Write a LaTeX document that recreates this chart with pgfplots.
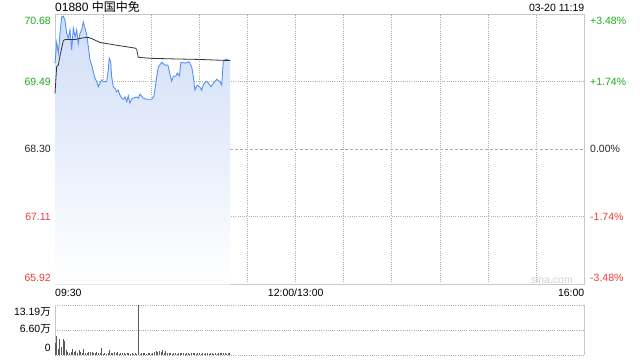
\documentclass[border=0pt]{standalone}
\usepackage{pgfplots}
\pgfplotsset{compat=1.18}
\usepackage{fontspec}
\setmainfont{Liberation Sans}
\newfontfamily\cjk{Noto Sans CJK SC}
\definecolor{upgreen}{RGB}{30,170,30}
\definecolor{downred}{RGB}{240,60,50}
\definecolor{lineblue}{RGB}{85,145,240}
\definecolor{filltop}{RGB}{208,222,248}
\definecolor{avgcol}{RGB}{50,50,50}
\definecolor{volcol}{RGB}{90,90,90}
\definecolor{gridc}{RGB}{200,200,200}
\definecolor{gridd}{RGB}{175,175,175}
\begin{document}
\begin{tikzpicture}[font=\fontsize{10.5}{12}\selectfont]
\path[use as bounding box] (0pt,0pt) rectangle (640pt,360pt);
% main price axis
\begin{axis}[at={(55pt,75.5pt)}, anchor=south west, scale only axis,
  width=529.5pt, height=270.5pt,
  xmin=0, xmax=330, ymin=65.92, ymax=70.68,
  axis line style={draw=gridc, line width=0.9pt},
  xtick={30,60,...,300}, ytick={67.11,69.49},
  xticklabels={}, yticklabels={}, major tick length=0pt,
  xmajorgrids, ymajorgrids,
  grid style={draw=gridd, line width=1pt, dash pattern=on 1pt off 1.2pt},
  clip=false]
\draw[gray!65, line width=0.9pt, dash pattern=on 3pt off 2pt] (axis cs:0,68.30) -- (axis cs:330,68.30);
\addplot[draw=none, top color=filltop, bottom color=white] coordinates {
(0,65.92) (0,69.81) (1.06,70.18) (2.06,69.99) (3.12,70.34) (4.18,70.63) (5.17,70.64) (6.23,70.57)
(7.29,70.34) (8.29,70.25) (9.35,70.40) (10.4,70.05) (11.4,70.43) (12.5,70.28) (13.5,70.40)
(14.5,70.16) (15.6,70.34) (16.6,70.40) (17.6,70.54) (18.7,70.43) (19.8,70.31) (20.8,70.10)
(21.8,69.87) (22.9,69.78) (23.9,69.66) (24.9,69.55) (26.0,69.49) (27.0,69.40) (28.0,69.46)
(29.1,69.52) (30.1,69.49) (32.2,69.49) (33.2,69.69) (33.8,69.90) (34.7,69.84) (35.3,69.58)
(36.3,69.40) (37.4,69.37) (38.5,69.31) (39.4,69.34) (40.5,69.25) (41.6,69.20) (42.6,69.18)
(43.6,69.22) (44.7,69.14) (45.7,69.24) (46.7,69.11) (47.8,69.18) (48.8,69.20) (50.9,69.22)
(51.9,69.20) (53.0,69.27) (55.0,69.20) (57.1,69.18) (60.3,69.18) (61.7,69.24) (63.4,69.58)
(64.4,69.75) (66.5,69.83) (68.6,69.78) (70.4,69.78) (71.7,69.61) (72.7,69.50) (73.7,69.58)
(75.4,69.59) (76.2,69.64) (77.5,69.59) (78.5,69.83) (80.0,69.82) (82.1,69.82) (83.5,69.84)
(85.2,69.75) (86.2,69.58) (87.2,69.34) (88.7,69.43) (90.4,69.39) (91.4,69.34) (92.4,69.43)
(93.9,69.49) (95.5,69.47) (97.2,69.40) (98.7,69.46) (100.8,69.53) (102.8,69.49) (103.9,69.43)
(104.9,69.84) (106.6,69.89) (107.8,69.87) (109.1,69.86) (109.1,65.92)} -- cycle;
\addplot[lineblue, line width=0.9pt] coordinates {
(0,69.81) (1.06,70.18) (2.06,69.99) (3.12,70.34) (4.18,70.63) (5.17,70.64) (6.23,70.57)
(7.29,70.34) (8.29,70.25) (9.35,70.40) (10.4,70.05) (11.4,70.43) (12.5,70.28) (13.5,70.40)
(14.5,70.16) (15.6,70.34) (16.6,70.40) (17.6,70.54) (18.7,70.43) (19.8,70.31) (20.8,70.10)
(21.8,69.87) (22.9,69.78) (23.9,69.66) (24.9,69.55) (26.0,69.49) (27.0,69.40) (28.0,69.46)
(29.1,69.52) (30.1,69.49) (32.2,69.49) (33.2,69.69) (33.8,69.90) (34.7,69.84) (35.3,69.58)
(36.3,69.40) (37.4,69.37) (38.5,69.31) (39.4,69.34) (40.5,69.25) (41.6,69.20) (42.6,69.18)
(43.6,69.22) (44.7,69.14) (45.7,69.24) (46.7,69.11) (47.8,69.18) (48.8,69.20) (50.9,69.22)
(51.9,69.20) (53.0,69.27) (55.0,69.20) (57.1,69.18) (60.3,69.18) (61.7,69.24) (63.4,69.58)
(64.4,69.75) (66.5,69.83) (68.6,69.78) (70.4,69.78) (71.7,69.61) (72.7,69.50) (73.7,69.58)
(75.4,69.59) (76.2,69.64) (77.5,69.59) (78.5,69.83) (80.0,69.82) (82.1,69.82) (83.5,69.84)
(85.2,69.75) (86.2,69.58) (87.2,69.34) (88.7,69.43) (90.4,69.39) (91.4,69.34) (92.4,69.43)
(93.9,69.49) (95.5,69.47) (97.2,69.40) (98.7,69.46) (100.8,69.53) (102.8,69.49) (103.9,69.43)
(104.9,69.84) (106.6,69.89) (107.8,69.87) (109.1,69.86)};
\addplot[avgcol, line width=0.8pt] coordinates {
(0,69.28) (1.06,69.76) (2.06,69.78) (3.12,69.94) (4.18,70.08) (5.17,70.21) (6.23,70.23)
(12.5,70.23) (15.6,70.25) (19.9,70.27) (21.8,70.26) (24.9,70.22) (28.0,70.18) (38.5,70.13)
(49.9,70.08) (50.9,70.06) (51.9,69.92) (55.0,69.91) (60.3,69.90) (73.7,69.89) (90.4,69.88)
(109.1,69.86)};
\end{axis}
% volume axis
\begin{axis}[at={(55pt,5pt)}, anchor=south west, scale only axis,
  width=529.5pt, height=50pt,
  xmin=0, xmax=330, ymin=0, ymax=13.19,
  axis line style={draw=none},
  xtick=\empty, ytick={0,6.595,13.19}, yticklabels={},
  major tick length=0pt, ymajorgrids,
  grid style={draw=gridd, line width=1pt, dash pattern=on 1pt off 1.2pt},
  clip=false]
\draw[gridc, line width=0.9pt] (rel axis cs:0,0) -- (rel axis cs:0,1);
\draw[gridc, line width=0.9pt] (rel axis cs:1,0) -- (rel axis cs:1,1);
\addplot[ycomb, volcol, line width=0.8pt] coordinates {
(0,3.2) (1,5.0) (2,1.5) (3,4.1) (4,2.2) (5,4.1) (6,3.8) (7,1.3) (8,0.8) (9,0.6)
(10,0.9) (11,1.5) (12,0.7) (13,1.1) (14,0.6) (15,1.3) (16,0.9) (17,0.6) (18,1.6) (19,0.6)
(20,0.4) (21,0.9) (22,0.9) (23,0.8) (24,0.4) (25,0.5) (26,0.9) (27,0.6) (28,0.4) (29,1.8)
(30,0.3) (31,0.5) (32,0.2) (33,0.4) (34,1.3) (35,0.4) (36,0.6) (37,0.9) (38,0.5) (39,0.7)
(40,0.3) (41,0.6) (42,0.4) (43,0.5) (44,0.3) (45,0.6) (46,0.4) (47,0.3) (48,0.5) (49,0.3)
(50,0.4) (51,0.3) (52,13.19) (53,0.3) (54,0.5) (55,0.4) (56,0.6) (57,0.3) (58,0.4) (59,0.5)
(60,0.3) (61,0.6) (62,0.7) (63,1.0) (64,0.8) (65,1.1) (66,0.9) (67,1.2) (68,0.6) (69,1.0)
(70,0.5) (71,0.4) (72,0.6) (73,0.3) (74,0.5) (75,0.4) (76,0.3) (77,0.6) (78,0.5) (79,0.4)
(80,0.6) (81,0.3) (82,0.5) (83,0.4) (84,0.3) (85,0.5) (86,0.4) (87,0.6) (88,0.3) (89,0.4)
(90,0.5) (91,0.3) (92,0.4) (93,0.3) (94,0.5) (95,0.4) (96,0.3) (97,0.4) (98,0.5) (99,0.3)
(100,0.4) (101,0.3) (102,0.5) (103,0.4) (104,0.6) (105,0.5) (106,0.4) (107,0.3) (108,0.4) (109,0.5)};
\end{axis}
% titles
\node[anchor=base west, inner sep=0pt, font=\fontsize{12}{14}\selectfont] at (55pt,348.3pt) {01880 {\cjk 中国中免}};
\node[anchor=base east, inner sep=0pt] at (584.5pt,348.3pt) {03-20 11:19};
% left price labels
\node[anchor=base east, inner sep=0pt, text=upgreen] at (51pt,336pt) {70.68};
\node[anchor=base east, inner sep=0pt, text=upgreen] at (51pt,274.3pt) {69.49};
\node[anchor=base east, inner sep=0pt, text=black!85] at (51pt,207.3pt) {68.30};
\node[anchor=base east, inner sep=0pt, text=downred] at (51pt,139.3pt) {67.11};
\node[anchor=base east, inner sep=0pt, text=downred] at (51pt,78.3pt) {65.92};
% right percent labels
\node[anchor=base west, inner sep=0pt, text=upgreen] at (590pt,336pt) {+3.48\%};
\node[anchor=base west, inner sep=0pt, text=upgreen] at (590pt,275pt) {+1.74\%};
\node[anchor=base west, inner sep=0pt, text=black!85] at (590pt,207.3pt) {0.00\%};
\node[anchor=base west, inner sep=0pt, text=downred] at (590pt,139.3pt) {-1.74\%};
\node[anchor=base west, inner sep=0pt, text=downred] at (590pt,78.3pt) {-3.48\%};
% time labels
\node[anchor=base west, inner sep=0pt] at (55pt,63.3pt) {09:30};
\node[anchor=base, inner sep=0pt] at (295.7pt,63.3pt) {12:00/13:00};
\node[anchor=base east, inner sep=0pt] at (584.5pt,63.3pt) {16:00};
% watermark
\node[anchor=base east, inner sep=0pt, text=gray!35] at (573pt,76.7pt) {sina.com};
% volume labels
\node[anchor=base east, inner sep=0pt] at (51pt,44.3pt) {13.19{\cjk 万}};
\node[anchor=base east, inner sep=0pt] at (51pt,27.7pt) {6.60{\cjk 万}};
\node[anchor=base east, inner sep=0pt] at (51pt,9pt) {0};
\end{tikzpicture}
\end{document}
